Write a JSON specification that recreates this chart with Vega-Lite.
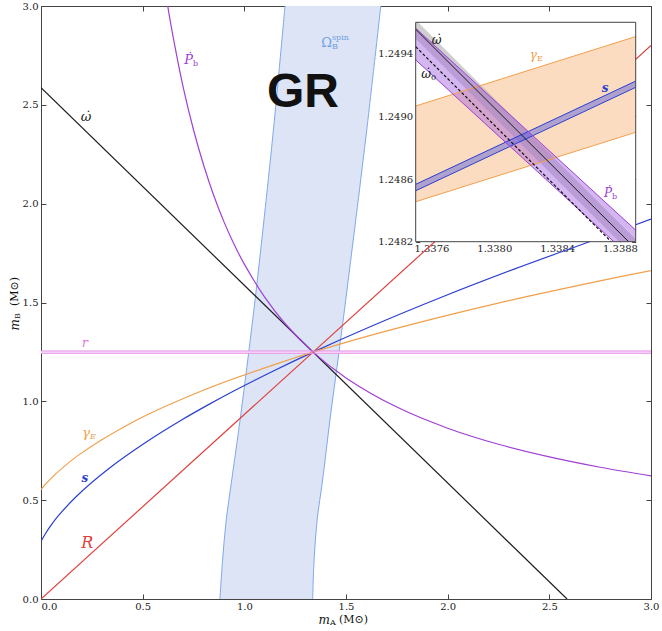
{
  "$schema": "https://vega.github.io/schema/vega-lite/v6.json",
  "width": 610,
  "height": 593,
  "autosize": {"type": "none"},
  "padding": {"left": 41, "top": 6, "right": 11, "bottom": 32},
  "background": "white",
  "config": {
    "view": {"stroke": "#444", "strokeWidth": 1},
    "axis": {"grid": false, "labelFont": "DejaVu Serif", "labelFontSize": 10, "labelColor": "#222", "tickColor": "#444", "domainColor": "#444"}
  },
  "datasets": {
    "curves": [
      {"series": "omega", "mA": 0, "mB": 2.587},
      {"series": "omega", "mA": 2.587, "mB": 0},
      {"series": "R", "mA": 0, "mB": 0},
      {"series": "R", "mA": 3, "mB": 2.8},
      {"series": "s", "mA": 0, "mB": 0.291},
      {"series": "s", "mA": 0.003, "mB": 0.297},
      {"series": "s", "mA": 0.0209, "mB": 0.3291},
      {"series": "s", "mA": 0.0402, "mB": 0.3598},
      {"series": "s", "mA": 0.0825, "mB": 0.4175},
      {"series": "s", "mA": 0.1775, "mB": 0.5225},
      {"series": "s", "mA": 0.3373, "mB": 0.6627},
      {"series": "s", "mA": 0.5107, "mB": 0.7893},
      {"series": "s", "mA": 0.6934, "mB": 0.9066},
      {"series": "s", "mA": 0.8193, "mB": 0.9807},
      {"series": "s", "mA": 0.948, "mB": 1.052},
      {"series": "s", "mA": 1.1453, "mB": 1.1547},
      {"series": "s", "mA": 1.338, "mB": 1.249},
      {"series": "s", "mA": 1.6215, "mB": 1.3785},
      {"series": "s", "mA": 1.9723, "mB": 1.5277},
      {"series": "s", "mA": 2.3301, "mB": 1.6699},
      {"series": "s", "mA": 2.6937, "mB": 1.8063},
      {"series": "s", "mA": 3.0, "mB": 1.922},
      {"series": "gamma", "mA": 0, "mB": 0.554},
      {"series": "gamma", "mA": 0.0114, "mB": 0.5679},
      {"series": "gamma", "mA": 0.0294, "mB": 0.5885},
      {"series": "gamma", "mA": 0.0623, "mB": 0.623},
      {"series": "gamma", "mA": 0.1813, "mB": 0.7254},
      {"series": "gamma", "mA": 0.4459, "mB": 0.8919},
      {"series": "gamma", "mA": 0.7892, "mB": 1.0522},
      {"series": "gamma", "mA": 1.2061, "mB": 1.2061},
      {"series": "gamma", "mA": 1.338, "mB": 1.249},
      {"series": "gamma", "mA": 1.6924, "mB": 1.3539},
      {"series": "gamma", "mA": 2.2434, "mB": 1.4956},
      {"series": "gamma", "mA": 2.8558, "mB": 1.6319},
      {"series": "gamma", "mA": 3.0, "mB": 1.6614},
      {"series": "Pb", "mA": 0.6232, "mB": 3.0},
      {"series": "Pb", "mA": 0.63, "mB": 2.958},
      {"series": "Pb", "mA": 0.65, "mB": 2.843},
      {"series": "Pb", "mA": 0.7, "mB": 2.586},
      {"series": "Pb", "mA": 0.75, "mB": 2.374},
      {"series": "Pb", "mA": 0.8, "mB": 2.1945},
      {"series": "Pb", "mA": 0.85, "mB": 2.04},
      {"series": "Pb", "mA": 0.9, "mB": 1.9078},
      {"series": "Pb", "mA": 0.95, "mB": 1.7932},
      {"series": "Pb", "mA": 1.0, "mB": 1.694},
      {"series": "Pb", "mA": 1.1, "mB": 1.5269},
      {"series": "Pb", "mA": 1.2, "mB": 1.3938},
      {"series": "Pb", "mA": 1.338, "mB": 1.249},
      {"series": "Pb", "mA": 1.5, "mB": 1.1186},
      {"series": "Pb", "mA": 1.75, "mB": 0.9709},
      {"series": "Pb", "mA": 2.0, "mB": 0.8641},
      {"series": "Pb", "mA": 2.25, "mB": 0.7828},
      {"series": "Pb", "mA": 2.5, "mB": 0.719},
      {"series": "Pb", "mA": 2.75, "mB": 0.6667},
      {"series": "Pb", "mA": 3.0, "mB": 0.623},
      {"series": "r1", "mA": 0, "mB": 1.2432},
      {"series": "r1", "mA": 3, "mB": 1.2432},
      {"series": "r2", "mA": 0, "mB": 1.2546},
      {"series": "r2", "mA": 3, "mB": 1.2546}
    ],
    "omegaSpin": [
      {"mB": 0, "left": 0.88, "right": 1.336},
      {"mB": 0.197, "left": 0.893, "right": 1.343},
      {"mB": 0.4, "left": 0.911, "right": 1.358},
      {"mB": 0.602, "left": 0.938, "right": 1.385},
      {"mB": 0.9055, "left": 0.979, "right": 1.421},
      {"mB": 1.26, "left": 1.023, "right": 1.467},
      {"mB": 1.614, "left": 1.064, "right": 1.511},
      {"mB": 2.373, "left": 1.143, "right": 1.602},
      {"mB": 3.0, "left": 1.2, "right": 1.671}
    ],
    "rband": [{"x0": 0, "x1": 3, "y0": 1.2432, "y1": 1.2546}],
    "mainLabels": [
      {"mA": 0.221, "mB": 2.438, "t": "ω̇", "kind": "c", "series": "omega"},
      {"mA": 0.748, "mB": 2.727, "t": "Ṗ", "kind": "r", "series": "Pb"},
      {"mA": 0.748, "mB": 2.727, "t": "b", "kind": "sub", "series": "Pb"},
      {"mA": 1.431, "mB": 2.813, "t": "Ω", "kind": "ur", "series": "Omega"},
      {"mA": 1.431, "mB": 2.813, "t": "B", "kind": "sub", "series": "Omega"},
      {"mA": 1.431, "mB": 2.813, "t": "spin", "kind": "sup", "series": "Omega"},
      {"mA": 0.216, "mB": 1.293, "t": "r", "kind": "c", "series": "r"},
      {"mA": 0.241, "mB": 0.838, "t": "γ", "kind": "r", "series": "gamma"},
      {"mA": 0.241, "mB": 0.838, "t": "E", "kind": "isub", "series": "gamma"},
      {"mA": 0.216, "mB": 0.61, "t": "s", "kind": "b", "series": "s"},
      {"mA": 0.228, "mB": 0.285, "t": "R", "kind": "big", "series": "R"},
      {"mA": 1.2885, "mB": 2.56, "t": "GR", "kind": "gr", "series": "k"},
      {"mA": 1.421, "mB": -0.106, "t": "m", "kind": "tm", "series": "k"},
      {"mA": 1.421, "mB": -0.106, "t": "A", "kind": "tsub", "series": "k"},
      {"mA": 1.4656, "mB": -0.106, "t": "(M⊙)", "kind": "tl", "series": "k"},
      {"mA": -0.128, "mB": 1.4165, "t": "m", "kind": "ytm", "series": "k"},
      {"mA": -0.128, "mB": 1.4165, "t": "B", "kind": "ytsub", "series": "k"},
      {"mA": -0.128, "mB": 1.482, "t": "(M⊙)", "kind": "ytl", "series": "k"}
    ],
    "insetBox": [{"x0": 1.3375, "x1": 1.3389, "y0": 1.2482, "y1": 1.2496}],
    "insetBands": [
      {"band": "gamma", "x": 1.3375, "hi": 1.249066, "lo": 1.248455},
      {"band": "gamma", "x": 1.3389, "hi": 1.249509, "lo": 1.248898},
      {"band": "s", "x": 1.3375, "hi": 1.248566, "lo": 1.248525},
      {"band": "s", "x": 1.3389, "hi": 1.249225, "lo": 1.249185},
      {"band": "omega", "x": 1.3375, "hi": 1.2496, "lo": 1.249495},
      {"band": "omega", "x": 1.337515, "hi": 1.2496, "lo": 1.24948},
      {"band": "omega", "x": 1.338795, "hi": 1.24832, "lo": 1.2482},
      {"band": "omega", "x": 1.3389, "hi": 1.248215, "lo": 1.2482},
      {"band": "Pb", "x": 1.3375, "hi": 1.249562, "lo": 1.24936},
      {"band": "Pb", "x": 1.338761, "hi": 1.248402, "lo": 1.2482},
      {"band": "Pb", "x": 1.3389, "hi": 1.248274, "lo": 1.2482}
    ],
    "insetLines": [
      {"line": "g1", "series": "gamma", "x": 1.3375, "y": 1.249066},
      {"line": "g1", "series": "gamma", "x": 1.3389, "y": 1.249509},
      {"line": "g2", "series": "gamma", "x": 1.3375, "y": 1.248455},
      {"line": "g2", "series": "gamma", "x": 1.3389, "y": 1.248898},
      {"line": "s1", "series": "s", "x": 1.3375, "y": 1.248566},
      {"line": "s1", "series": "s", "x": 1.3389, "y": 1.249225},
      {"line": "s2", "series": "s", "x": 1.3375, "y": 1.248525},
      {"line": "s2", "series": "s", "x": 1.3389, "y": 1.249185},
      {"line": "p1", "series": "Pb", "x": 1.3375, "y": 1.249562},
      {"line": "p1", "series": "Pb", "x": 1.3389, "y": 1.248274},
      {"line": "p2", "series": "Pb", "x": 1.3375, "y": 1.24936},
      {"line": "p2", "series": "Pb", "x": 1.338761, "y": 1.2482},
      {"line": "w", "series": "omega", "x": 1.3375, "y": 1.249555},
      {"line": "w", "series": "omega", "x": 1.338855, "y": 1.2482}
    ],
    "insetDashed": [
      {"x": 1.3375, "y": 1.249444},
      {"x": 1.338744, "y": 1.2482}
    ],
    "insetLabels": [
      {"x": 1.337634, "y": 1.249487, "t": "ω̇", "kind": "c", "series": "k"},
      {"x": 1.337597, "y": 1.24927, "t": "ω̇", "kind": "r", "series": "k"},
      {"x": 1.337597, "y": 1.24927, "t": "0", "kind": "sub", "series": "k"},
      {"x": 1.338272, "y": 1.249391, "t": "γ", "kind": "r", "series": "gamma"},
      {"x": 1.338272, "y": 1.249391, "t": "E", "kind": "sub", "series": "gamma"},
      {"x": 1.338705, "y": 1.249179, "t": "s", "kind": "b", "series": "s"},
      {"x": 1.338749, "y": 1.248513, "t": "Ṗ", "kind": "r", "series": "Pb"},
      {"x": 1.338749, "y": 1.248513, "t": "b", "kind": "sub", "series": "Pb"}
    ]
  },
  "resolve": {
    "scale": {"x": "independent", "y": "independent"},
    "axis": {"x": "independent", "y": "independent"}
  },
  "layer": [
    {
      "layer": [
        {
          "data": {"name": "omegaSpin"},
          "mark": {"type": "area", "orient": "horizontal", "color": "#dce4f6", "interpolate": "catmull-rom"},
          "encoding": {
            "y": {"field": "mB", "type": "quantitative",
              "scale": {"domain": [0, 3], "nice": false, "zero": false},
              "axis": {"orient": "left", "values": [0, 0.5, 1, 1.5, 2, 2.5, 3], "format": ".1f", "tickSize": -5, "labelPadding": 8, "title": null, "labelFlush": false, "domain": false}},
            "x": {"field": "left", "type": "quantitative",
              "scale": {"domain": [0, 3], "nice": false, "zero": false},
              "axis": {"orient": "bottom", "values": [0, 0.5, 1, 1.5, 2, 2.5, 3], "format": ".1f", "tickSize": -5, "labelPadding": 7, "title": null, "labelFlush": false, "labelAlign": {"expr": "datum.value == 0 ? 'left' : 'center'"}, "domain": false}},
            "x2": {"field": "right"}
          }
        },
        {
          "data": {"name": "omegaSpin"},
          "mark": {"type": "line", "color": "#7fa8ea", "strokeWidth": 1, "interpolate": "catmull-rom"},
          "encoding": {
            "x": {"field": "left", "type": "quantitative"},
            "y": {"field": "mB", "type": "quantitative"}
          }
        },
        {
          "data": {"name": "omegaSpin"},
          "mark": {"type": "line", "color": "#7fa8ea", "strokeWidth": 1, "interpolate": "catmull-rom"},
          "encoding": {
            "x": {"field": "right", "type": "quantitative"},
            "y": {"field": "mB", "type": "quantitative"}
          }
        },
        {
          "data": {"name": "rband"},
          "mark": {"type": "rect", "color": "#fae6fa"},
          "encoding": {
            "x": {"field": "x0", "type": "quantitative"},
            "x2": {"field": "x1"},
            "y": {"field": "y0", "type": "quantitative"},
            "y2": {"field": "y1"}
          }
        },
        {
          "data": {"name": "curves"},
          "mark": {"type": "line", "strokeWidth": 1.2, "clip": true, "interpolate": "catmull-rom"},
          "encoding": {
            "x": {"field": "mA", "type": "quantitative"},
            "y": {"field": "mB", "type": "quantitative"},
            "color": {"field": "series", "type": "nominal", "legend": null,
              "scale": {"domain": ["omega", "R", "s", "gamma", "Pb", "r", "r1", "r2", "Omega", "k"],
                "range": ["#1c1c1c", "#e0403c", "#2b3fd1", "#f0a04c", "#a040d4", "#e07ae0", "#e88ce8", "#e88ce8", "#6e9fe2", "#111111"]}}
          }
        }
      ]
    },
    {
      "data": {"name": "mainLabels"},
      "encoding": {
        "x": {"field": "mA", "type": "quantitative",
          "scale": {"domain": [0, 3], "nice": false, "zero": false},
          "axis": {"orient": "top", "values": [0, 0.5, 1, 1.5, 2, 2.5, 3], "tickSize": -5, "labels": false, "title": null, "domain": false}},
        "y": {"field": "mB", "type": "quantitative",
          "scale": {"domain": [0, 3], "nice": false, "zero": false},
          "axis": {"orient": "right", "values": [0, 0.5, 1, 1.5, 2, 2.5, 3], "tickSize": -5, "labels": false, "title": null, "domain": false}},
        "text": {"field": "t"},
        "color": {"field": "series", "type": "nominal", "legend": null}
      },
      "layer": [
        {"transform": [{"filter": "datum.kind == 'c'"}], "mark": {"type": "text", "font": "DejaVu Serif", "fontStyle": "italic", "fontSize": 13, "align": "center", "baseline": "middle"}},
        {"transform": [{"filter": "datum.kind == 'r'"}], "mark": {"type": "text", "font": "DejaVu Serif", "fontStyle": "italic", "fontSize": 13, "align": "right", "baseline": "middle"}},
        {"transform": [{"filter": "datum.kind == 'ur'"}], "mark": {"type": "text", "font": "DejaVu Serif", "fontSize": 13, "align": "right", "baseline": "middle"}},
        {"transform": [{"filter": "datum.kind == 'sub'"}], "mark": {"type": "text", "font": "DejaVu Serif", "fontSize": 8, "align": "left", "baseline": "middle", "dy": 4}},
        {"transform": [{"filter": "datum.kind == 'isub'"}], "mark": {"type": "text", "font": "DejaVu Serif", "fontStyle": "italic", "fontSize": 8, "align": "left", "baseline": "middle", "dy": 4}},
        {"transform": [{"filter": "datum.kind == 'sup'"}], "mark": {"type": "text", "font": "DejaVu Serif", "fontSize": 8, "align": "left", "baseline": "middle", "dy": -5}},
        {"transform": [{"filter": "datum.kind == 'b'"}], "mark": {"type": "text", "font": "DejaVu Serif", "fontStyle": "italic", "fontWeight": "bold", "fontSize": 12, "align": "center", "baseline": "middle"}},
        {"transform": [{"filter": "datum.kind == 'big'"}], "mark": {"type": "text", "font": "DejaVu Serif", "fontStyle": "italic", "fontSize": 16, "align": "center", "baseline": "middle"}},
        {"transform": [{"filter": "datum.kind == 'gr'"}], "mark": {"type": "text", "font": "Liberation Sans", "fontWeight": "bold", "fontSize": 48, "align": "center", "baseline": "middle"}},
        {"transform": [{"filter": "datum.kind == 'tm'"}], "mark": {"type": "text", "font": "DejaVu Serif", "fontStyle": "italic", "fontSize": 12, "align": "right", "baseline": "middle"}},
        {"transform": [{"filter": "datum.kind == 'tsub'"}], "mark": {"type": "text", "font": "DejaVu Serif", "fontSize": 8, "align": "left", "baseline": "middle", "dy": 3}},
        {"transform": [{"filter": "datum.kind == 'tl'"}], "mark": {"type": "text", "font": "DejaVu Serif", "fontSize": 11, "align": "left", "baseline": "middle"}},
        {"transform": [{"filter": "datum.kind == 'ytm'"}], "mark": {"type": "text", "font": "DejaVu Serif", "fontStyle": "italic", "fontSize": 12, "align": "right", "baseline": "middle", "angle": 270}},
        {"transform": [{"filter": "datum.kind == 'ytsub'"}], "mark": {"type": "text", "font": "DejaVu Serif", "fontSize": 8, "align": "left", "baseline": "middle", "dy": 3, "angle": 270}},
        {"transform": [{"filter": "datum.kind == 'ytl'"}], "mark": {"type": "text", "font": "DejaVu Serif", "fontSize": 11, "align": "left", "baseline": "middle", "angle": 270}}
      ]
    },
    {
      "layer": [
        {
          "data": {"name": "insetBox"},
          "mark": {"type": "rect", "color": "white"},
          "encoding": {
            "x": {"field": "x0", "type": "quantitative",
              "scale": {"domain": [1.3375, 1.3389], "range": [374.7, 594.7], "nice": false, "zero": false},
              "axis": {"orient": "bottom", "offset": -357.3, "values": [1.3376, 1.338, 1.3384, 1.3388], "format": ".4f", "tickSize": -4, "labelPadding": 5.5, "title": null, "labelFlush": false, "domain": false}},
            "x2": {"field": "x1"},
            "y": {"field": "y0", "type": "quantitative",
              "scale": {"domain": [1.2482, 1.2496], "range": [235.7, 16.3], "nice": false, "zero": false},
              "axis": {"orient": "left", "offset": -374.7, "values": [1.2482, 1.2486, 1.249, 1.2494], "format": ".4f", "tickSize": -4, "labelPadding": 7, "title": null, "labelFlush": false, "domain": false}},
            "y2": {"field": "y1"}
          }
        },
        {
          "data": {"name": "insetBands"},
          "transform": [{"filter": "datum.band == 'gamma'"}],
          "mark": {"type": "area", "color": "#fcdcc0", "opacity": 1},
          "encoding": {"x": {"field": "x", "type": "quantitative"}, "y": {"field": "hi", "type": "quantitative"}, "y2": {"field": "lo"}}
        },
        {
          "data": {"name": "insetBands"},
          "transform": [{"filter": "datum.band == 'omega'"}],
          "mark": {"type": "area", "color": "#a8a8a8", "opacity": 0.55},
          "encoding": {"x": {"field": "x", "type": "quantitative"}, "y": {"field": "hi", "type": "quantitative"}, "y2": {"field": "lo"}}
        },
        {
          "data": {"name": "insetBands"},
          "transform": [{"filter": "datum.band == 'Pb'"}],
          "mark": {"type": "area", "color": "#a060e0", "opacity": 0.45},
          "encoding": {"x": {"field": "x", "type": "quantitative"}, "y": {"field": "hi", "type": "quantitative"}, "y2": {"field": "lo"}}
        },
        {
          "data": {"name": "insetBands"},
          "transform": [{"filter": "datum.band == 's'"}],
          "mark": {"type": "area", "color": "#5058e0", "opacity": 0.45},
          "encoding": {"x": {"field": "x", "type": "quantitative"}, "y": {"field": "hi", "type": "quantitative"}, "y2": {"field": "lo"}}
        },
        {
          "data": {"name": "insetLines"},
          "mark": {"type": "line", "strokeWidth": 1},
          "encoding": {
            "x": {"field": "x", "type": "quantitative"},
            "y": {"field": "y", "type": "quantitative"},
            "detail": {"field": "line"},
            "color": {"field": "series", "type": "nominal", "legend": null}
          }
        },
        {
          "data": {"name": "insetDashed"},
          "mark": {"type": "line", "strokeWidth": 1.2, "color": "#111", "strokeDash": [3, 2]},
          "encoding": {
            "x": {"field": "x", "type": "quantitative"},
            "y": {"field": "y", "type": "quantitative"}
          }
        },
        {
          "data": {"name": "insetLabels"},
          "encoding": {
            "x": {"field": "x", "type": "quantitative"},
            "y": {"field": "y", "type": "quantitative"},
            "text": {"field": "t"},
            "color": {"field": "series", "type": "nominal", "legend": null}
          },
          "layer": [
            {"transform": [{"filter": "datum.kind == 'c'"}], "mark": {"type": "text", "font": "DejaVu Serif", "fontStyle": "italic", "fontSize": 12, "align": "center", "baseline": "middle"}},
            {"transform": [{"filter": "datum.kind == 'r'"}], "mark": {"type": "text", "font": "DejaVu Serif", "fontStyle": "italic", "fontSize": 12, "align": "right", "baseline": "middle"}},
            {"transform": [{"filter": "datum.kind == 'sub'"}], "mark": {"type": "text", "font": "DejaVu Serif", "fontSize": 8, "align": "left", "baseline": "middle", "dy": 4}},
            {"transform": [{"filter": "datum.kind == 'b'"}], "mark": {"type": "text", "font": "DejaVu Serif", "fontStyle": "italic", "fontWeight": "bold", "fontSize": 12, "align": "center", "baseline": "middle"}}
          ]
        }
      ]
    },
    {
      "data": {"name": "insetBox"},
      "mark": {"type": "rect", "filled": false, "stroke": "#444", "strokeWidth": 1},
      "encoding": {
        "x": {"field": "x0", "type": "quantitative",
          "scale": {"domain": [1.3375, 1.3389], "range": [374.7, 594.7], "nice": false, "zero": false},
          "axis": {"orient": "top", "offset": -16.3, "values": [1.3376, 1.338, 1.3384, 1.3388], "tickSize": -4, "labels": false, "title": null, "domain": false}},
        "x2": {"field": "x1"},
        "y": {"field": "y0", "type": "quantitative",
          "scale": {"domain": [1.2482, 1.2496], "range": [235.7, 16.3], "nice": false, "zero": false},
          "axis": {"orient": "right", "offset": -15.3, "values": [1.2482, 1.2486, 1.249, 1.2494], "tickSize": -4, "labels": false, "title": null, "domain": false}},
        "y2": {"field": "y1"}
      }
    }
  ]
}
